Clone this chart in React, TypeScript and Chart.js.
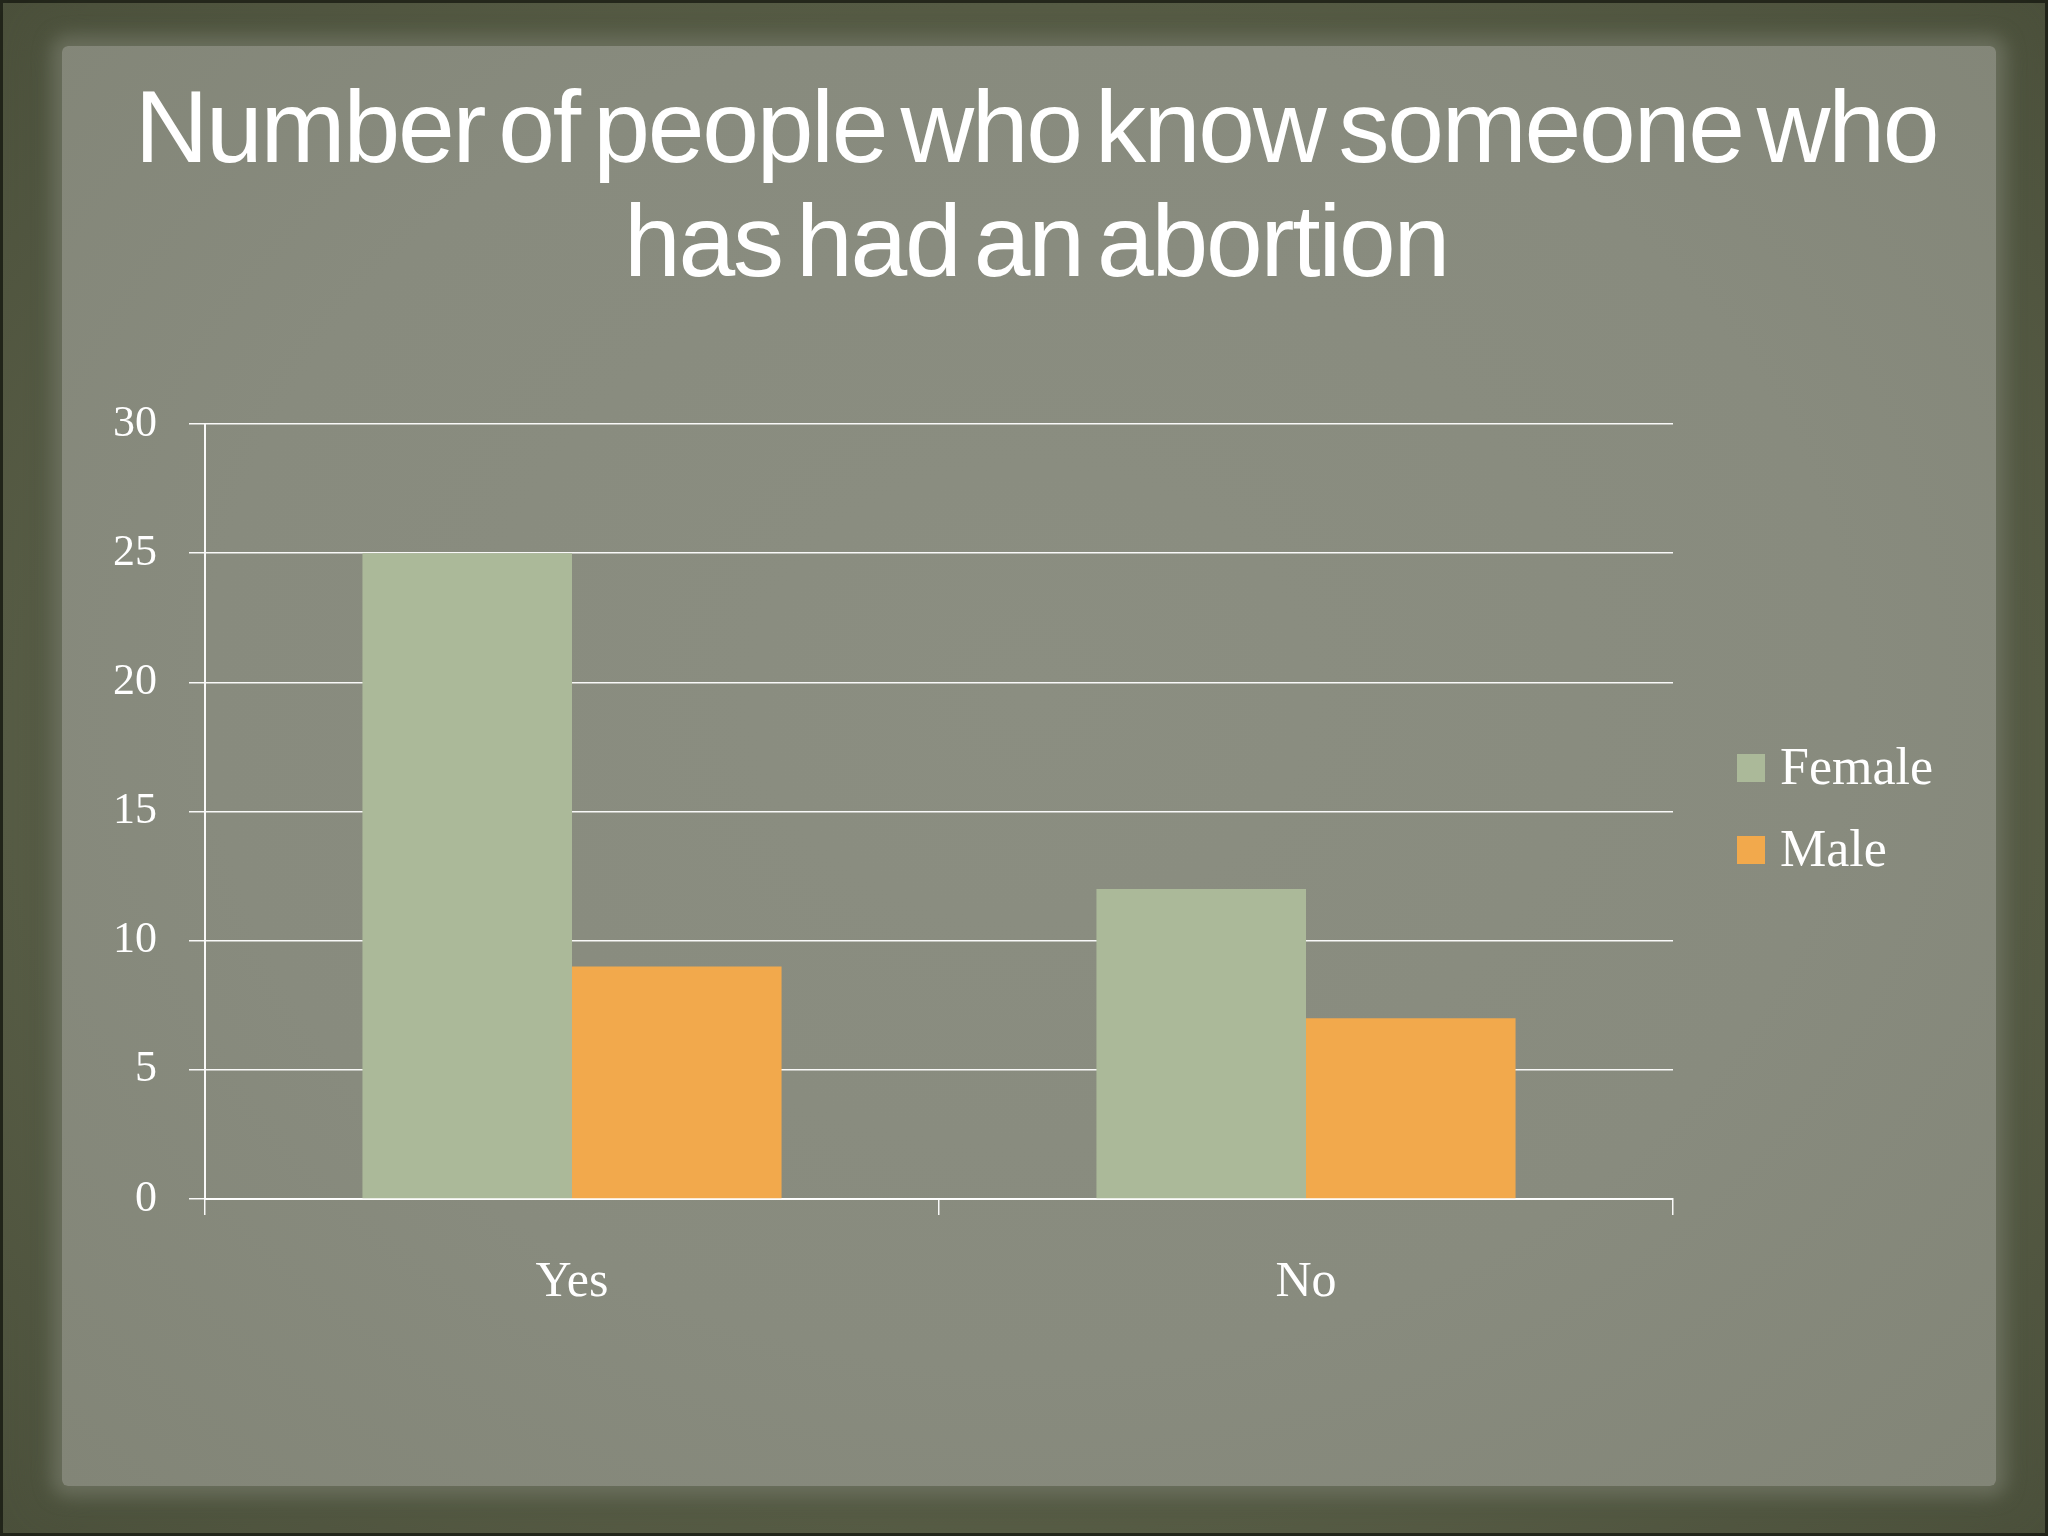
import React, { useEffect, useRef } from "react";
import { Chart, registerables } from "chart.js";

Chart.register(...registerables);

const titleLines = ["Number of people who know someone who", "has had an abortion"];
const categories = ["Yes", "No"];
const femaleValues = [25, 12];
const maleValues = [9, 7];
const seriesNames = ["Female", "Male"];
const yTicks = [0, 5, 10, 15, 20, 25, 30];

const FEMALE_COLOR = "#abb999";
const MALE_COLOR = "#f2a94c";

const sideLegend = {
  id: "sideLegend",
  afterDraw(chart: any) {
    const ctx = chart.ctx;
    ctx.save();
    chart.data.datasets.forEach((ds: any, i: number) => {
      const y = 768 + i * 82;
      ctx.fillStyle = ds.backgroundColor;
      ctx.fillRect(1737, y - 14, 28, 28);
      ctx.fillStyle = "#ffffff";
      ctx.font = '52px "Liberation Serif"';
      ctx.textBaseline = "middle";
      ctx.textAlign = "left";
      ctx.fillText(ds.label, 1780, y + 2);
    });
    ctx.restore();
  },
};

export default function App() {
  const canvasRef = useRef<HTMLCanvasElement | null>(null);

  useEffect(() => {
    if (!canvasRef.current) return;
    const chart = new Chart(canvasRef.current, {
      type: "bar",
      data: {
        labels: categories,
        datasets: [
          { label: seriesNames[0], data: femaleValues, backgroundColor: FEMALE_COLOR, borderWidth: 0 },
          { label: seriesNames[1], data: maleValues, backgroundColor: MALE_COLOR, borderWidth: 0 },
        ],
      },
      options: {
        responsive: false,
        animation: false,
        layout: { padding: { left: 0, top: 424, right: 375, bottom: 0 } },
        datasets: { bar: { categoryPercentage: 0.571, barPercentage: 1.0 } },
        plugins: {
          legend: { display: false },
          title: { display: false },
          tooltip: { enabled: false },
        },
        scales: {
          x: {
            offset: true,
            grid: {
              offset: true,
              drawOnChartArea: false,
              color: "rgba(255,255,255,0.95)",
              lineWidth: 1.5,
              tickLength: 16,
            },
            border: { color: "rgba(255,255,255,0.95)", width: 2 },
            ticks: {
              color: "#ffffff",
              font: { family: "Liberation Serif", size: 50 },
              padding: 38,
            },
            afterFit(scale: any) {
              scale.height = 1536 - 1199;
            },
          },
          y: {
            min: 0,
            max: 30,
            afterBuildTicks(scale: any) {
              scale.ticks = yTicks.map((v) => ({ value: v }));
            },
            grid: {
              color: "rgba(255,255,255,0.95)",
              lineWidth: 1.5,
              tickLength: 16,
            },
            border: { color: "rgba(255,255,255,0.95)", width: 2 },
            ticks: {
              color: "#ffffff",
              font: { family: "Liberation Serif", size: 44 },
              padding: 32,
            },
            afterFit(scale: any) {
              scale.width = 205;
            },
          },
        },
      },
      plugins: [sideLegend],
    });
    return () => chart.destroy();
  }, []);

  return (
    <div
      style={{
        position: "fixed",
        left: 0,
        top: 0,
        width: 2048,
        height: 1536,
        overflow: "hidden",
        background: "radial-gradient(ellipse at center, #666a52 0%, #575c45 70%, #4b503b 100%)",
        boxShadow: "inset 0 0 0 3px #22251a",
      }}
    >
      <div
        style={{
          position: "absolute",
          left: 62,
          top: 46,
          width: 1934,
          height: 1440,
          background: "radial-gradient(ellipse at 50% 45%, #8b8e81 0%, #888b7e 60%, #828577 100%)",
          boxShadow: "0 0 18px 10px rgba(110,114,96,0.9), 0 0 40px 20px rgba(80,85,65,0.5)",
          borderRadius: 6,
        }}
      />
      <div
        style={{
          position: "absolute",
          left: 12,
          top: 70,
          width: 2048,
          textAlign: "center",
          color: "#ffffff",
          fontFamily: '"Liberation Sans", Arial, sans-serif',
          fontSize: 102,
          lineHeight: "114px",
          letterSpacing: "-2.2px",
          wordSpacing: "-12px",
          whiteSpace: "nowrap",
        }}
      >
        {titleLines.map((t, i) => (
          <div key={i}>{t}</div>
        ))}
      </div>
      <canvas
        ref={canvasRef}
        width={2048}
        height={1536}
        style={{ position: "absolute", left: 0, top: 0, width: 2048, height: 1536 }}
      />
    </div>
  );
}
